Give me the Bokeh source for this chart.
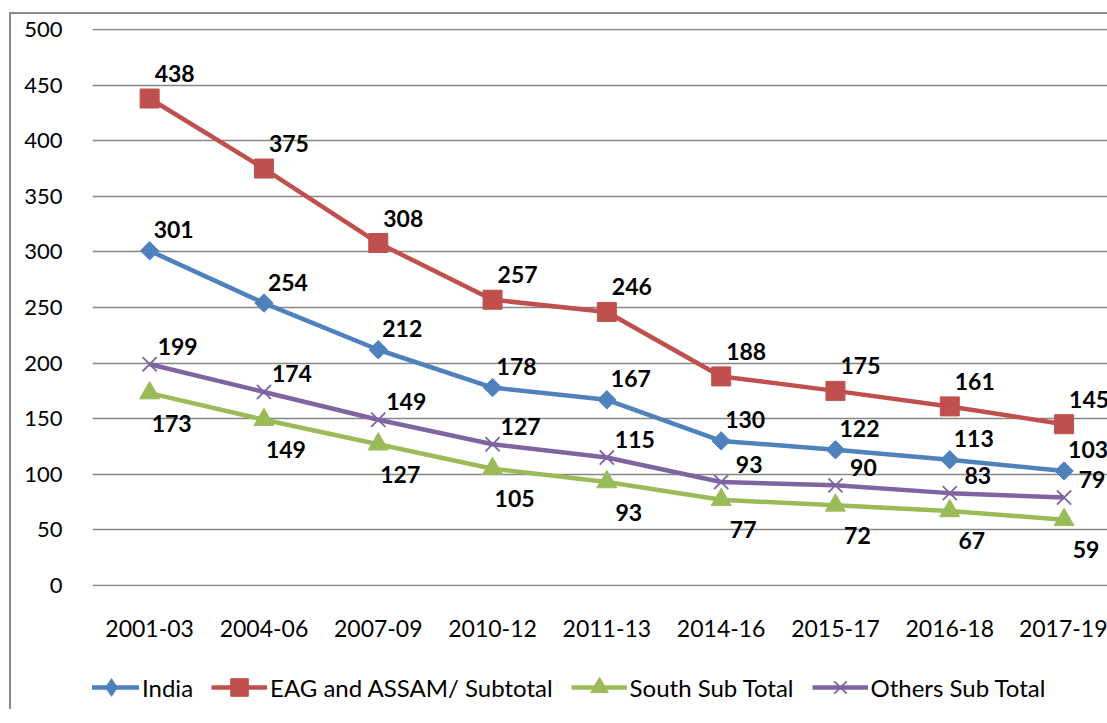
import numpy as np
from bokeh.plotting import figure
from bokeh.layouts import column
from bokeh.models import Range1d, FixedTicker, Legend, LegendItem, ColumnDataSource
from bokeh.core.properties import value
from bokeh.embed import file_html
from bokeh.resources import INLINE

periods = ["2001-03", "2004-06", "2007-09", "2010-12", "2011-13",
           "2014-16", "2015-17", "2016-18", "2017-19"]
india = [301, 254, 212, 178, 167, 130, 122, 113, 103]
eag_assam = [438, 375, 308, 257, 246, 188, 175, 161, 145]
south = [173, 149, 127, 105, 93, 77, 72, 67, 59]
others = [199, 174, 149, 127, 115, 93, 90, 83, 79]
y_ticks = [0, 50, 100, 150, 200, 250, 300, 350, 400, 450, 500]

x = list(range(len(periods)))
FONT = "Lato"

p = figure(width=1096, height=631, output_backend="svg", toolbar_location=None,
           x_range=Range1d(-0.5, 8.38), y_range=Range1d(-1, 501),
           min_border_left=81, min_border_right=0, min_border_top=14,
           min_border_bottom=59, outline_line_color=None)

p.xgrid.grid_line_color = None
p.ygrid.grid_line_color = "#878787"
p.ygrid.grid_line_width = 1.6
p.ygrid.ticker = FixedTicker(ticks=y_ticks)

p.yaxis.ticker = FixedTicker(ticks=y_ticks)
p.yaxis.axis_line_color = None
p.yaxis.major_tick_line_color = None
p.yaxis.minor_tick_line_color = None
p.yaxis.major_label_standoff = 24
p.yaxis.major_label_text_font = FONT
p.yaxis.major_label_text_font_size = "22px"
p.yaxis.major_label_text_color = "#000000"

p.xaxis.ticker = FixedTicker(ticks=x)
p.xaxis.major_label_overrides = {i: s for i, s in zip(x, periods)}
p.xaxis.axis_line_color = None
p.xaxis.major_tick_line_color = None
p.xaxis.minor_tick_line_color = None
p.xaxis.major_label_standoff = 27
p.xaxis.major_label_text_font = FONT
p.xaxis.major_label_text_font_size = "23px"
p.xaxis.major_label_text_color = "#000000"

series = [
    ("India", india, "#4F81BD", dict(marker="square", angle=np.pi / 4, size=13), "diamond", (24, -21)),
    ("EAG and ASSAM/ Subtotal", eag_assam, "#C0504D", dict(marker="square", size=19), "square", (25, -25)),
    ("South Sub Total", south, "#9BBB59", dict(marker="triangle", size=20), "triangle", (22, 30)),
    ("Others Sub Total", others, "#8064A2", dict(marker="x", size=20, line_width=1.8), "x", (28, -18)),
]

# legend figure (same data, drawn outside its ranges so only the legend shows)
lg = figure(width=1096, height=64, output_backend="svg", toolbar_location=None,
            x_range=Range1d(0, 1), y_range=Range1d(0, 1),
            x_axis_type=None, y_axis_type=None, outline_line_color=None,
            min_border_left=0, min_border_right=0, min_border_top=0, min_border_bottom=0)

legend_items = []
for name, vals, color, mk, lmk, (dx, dy) in series:
    src = ColumnDataSource(dict(x=x, y=vals, t=[str(v) for v in vals]))
    p.line("x", "y", source=src, line_color=color, line_width=4.5)
    mk = dict(mk)
    lw = mk.pop("line_width", 1)
    p.scatter("x", "y", source=src, fill_color=color, line_color=color,
              line_width=lw, **mk)
    p.text("x", "y", text="t", source=src, x_offset=dx, y_offset=dy,
           text_align="center", text_baseline="middle",
           text_font=value(FONT), text_font_style="bold",
           text_font_size="23px", text_color="#000000", level="overlay")
    lr = lg.line("x", "y", source=src, line_color=color, line_width=4.5)
    sr = lg.scatter("x", "y", source=src, marker=lmk, fill_color=color,
                    line_color=color, line_width=lw)
    legend_items.append(LegendItem(label=name, renderers=[lr, sr]))

legend = Legend(items=legend_items, orientation="horizontal", location=(-9, 0),
                label_text_font=FONT, label_text_font_size="24px",
                label_text_color="#000000",
                glyph_width=56, glyph_height=44, spacing=18, label_standoff=3,
                border_line_color=None, background_fill_alpha=0, padding=0,
                margin=0)
lg.add_layout(legend)

layout = column(p, lg, spacing=0)
layout.margin = (12, 0, 0, 9)
layout.styles = {"border-left": "2px solid #8a8a8a", "border-top": "2px solid #8a8a8a"}

open("out.html", "w").write(file_html(layout, INLINE))
